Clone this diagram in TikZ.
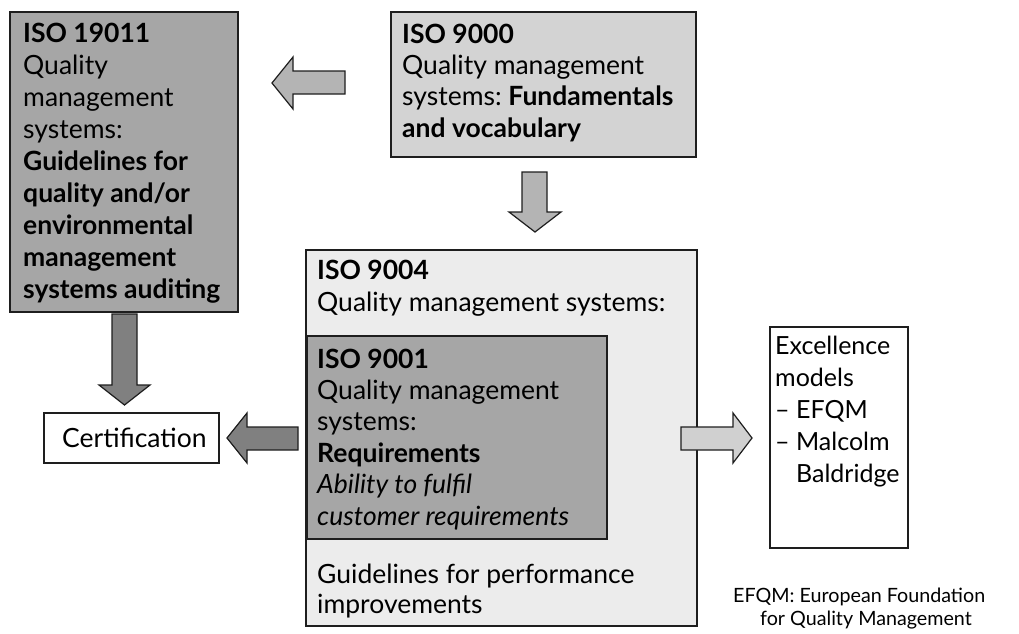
\documentclass[tikz,border=0pt]{standalone}
\usepackage{fontspec}
\setmainfont{Lato}
\frenchspacing
\definecolor{boxdark}{HTML}{A6A6A6}
\definecolor{boxmid}{HTML}{D3D3D3}
\definecolor{boxlight}{HTML}{ECECEC}
\definecolor{arrlight}{HTML}{B4B4B4}
\definecolor{arrpale}{HTML}{D0D0D0}
\definecolor{arrdark}{HTML}{808080}
\definecolor{edge}{HTML}{1E1E1E}
\tikzset{
  box/.style={draw=edge, line width=1.4pt},
  blockarrow/.style={draw=edge, line width=1.2pt, line join=miter},
  txt/.style={anchor=base west, inner sep=0pt, align=left, font=\fontsize{26.5}{31.7}\selectfont},
  notetxt/.style={anchor=base west, inner sep=0pt, font=\fontsize{19.7}{22}\selectfont},
}
\begin{document}
\begin{tikzpicture}[x=1pt, y=-1pt]
\useasboundingbox (0,0) rectangle (1019,633);
% boxes
\path[box, fill=boxdark] (10,12) rectangle (238,312);
\path[box, fill=boxmid] (391,12) rectangle (696,157);
\path[box, fill=boxlight] (306,250) rectangle (697,626);
\path[box, fill=boxdark] (307,336) rectangle (607,539);
\path[box, fill=white] (44,413) rectangle (219,463);
\path[box, fill=white] (770,327) rectangle (908,548);
% texts (anchored at the baseline of their last line)
\node[txt, font=\fontsize{26.5}{32}\selectfont] (t19011) at (23,298) {\textbf{ISO 19011}\\Quality\\management\\systems:\\\textbf{Guidelines for}\\\textbf{quality and/or}\\\textbf{environmental}\\\textbf{management}\\\textbf{systems auditing}};
\node[txt, font=\fontsize{26.5}{31.3}\selectfont] (t9000) at (402,137) {\textbf{ISO 9000}\\Quality management\\systems: \textbf{Fundamentals}\\\textbf{and vocabulary}};
\node[txt] (t9004) at (317,311) {\textbf{ISO 9004}\\Quality management systems:};
\node[txt, font=\fontsize{26.5}{31.4}\selectfont] (t9001) at (317,525) {\textbf{ISO 9001}\\Quality management\\systems:\\\textbf{Requirements}\\\textit{Ability to fulfil}\\\textit{customer requirements}};
\node[txt, font=\fontsize{26.5}{30}\selectfont] (tguide) at (317,613) {Guidelines for performance\\improvements};
\node[txt, font=\fontsize{25}{31.8}\selectfont] (texc) at (775,482) {Excellence\\models\\– EFQM\\– Malcolm\\\phantom{– }Baldridge};
\node[txt] (tcert) at (62,447) {Certification};
\node[notetxt] (note1) at (733,602) {EFQM: European Foundation};
\node[notetxt] (note2) at (760,625) {for Quality Management};
% block arrows
\path[blockarrow, fill=arrlight] (272,83) -- (293,57) -- (293,71) -- (345,71) -- (345,94) -- (293,94) -- (293,109) -- cycle;
\path[blockarrow, fill=arrlight] (535,232) -- (509,212) -- (522,212) -- (522,172) -- (547,172) -- (547,212) -- (561,212) -- cycle;
\path[blockarrow, fill=arrdark] (124.5,405) -- (99,385) -- (112,385) -- (112,314) -- (137,314) -- (137,385) -- (150,385) -- cycle;
\path[blockarrow, fill=arrdark] (227,438) -- (247,413) -- (247,427) -- (298,427) -- (298,450) -- (247,450) -- (247,463) -- cycle;
\path[blockarrow, fill=arrpale] (752,438) -- (733,413) -- (733,427) -- (681,427) -- (681,450) -- (733,450) -- (733,463) -- cycle;
\end{tikzpicture}
\end{document}
